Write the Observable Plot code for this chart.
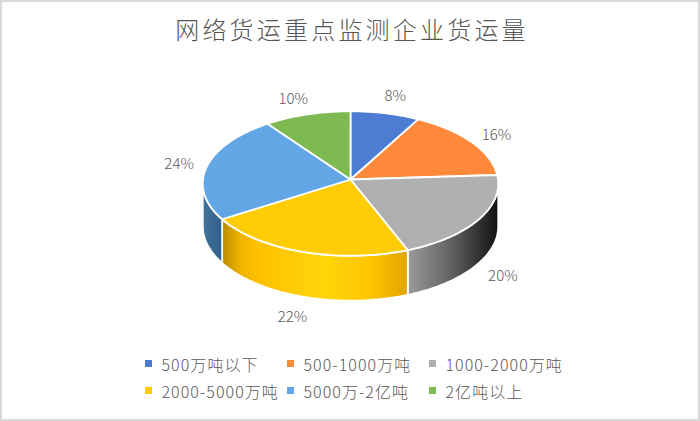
<!DOCTYPE html>
<html><head><meta charset="utf-8">
<script src="https://cdn.jsdelivr.net/npm/d3@7"></script>
<script src="https://cdn.jsdelivr.net/npm/@observablehq/plot@0.6"></script>
<style>
html,body{margin:0;padding:0;background:#fff;overflow:hidden}
#frame{box-sizing:border-box;width:700px;height:421px;border:2px solid #d9d9d9;background:#fff;position:relative;font-family:"Noto Sans CJK SC",sans-serif;color:#595959;overflow:hidden}
#title{height:54px;line-height:53px;text-align:center;font-size:24px;letter-spacing:3.2px;font-weight:300;white-space:nowrap;color:#555;padding-left:4px;box-sizing:border-box}
#chart svg{display:block}
#legend{position:absolute;left:143px;top:348px;display:grid;grid-template-columns:142px 142px 142px;grid-auto-rows:27px;font-size:16px;letter-spacing:1.05px;font-weight:300}
#legend div{display:flex;align-items:center;white-space:nowrap}
#legend i{display:inline-block;width:7px;height:7px;margin-right:9.5px;flex:none}
</style></head>
<body><div id="frame"><div id="title"></div><div id="chart"></div><div id="legend"></div></div>
<script>
const chartTitle = "网络货运重点监测企业货运量";
const categories = ["500万吨以下","500-1000万吨","1000-2000万吨","2000-5000万吨","5000万-2亿吨","2亿吨以上"];
const shares = [8,16,20,22,24,10];
const colors = ["#4d7dd3","#ff893b","#b0b0b0","#ffcc05","#62a6e5","#7eb952"];
const labelNudgeX = [10,25,24,-10,-28,-14];
const labelNudgeY = [-17,-7,57,65,-2,-15];
const wallStops = [
  {id:"wallGrey", stops:[[0,"#9a9a9a"],[.45,"#666"],[.8,"#303030"],[1,"#111"]]},
  {id:"wallYellow", stops:[[0,"#bb8c00"],[.1,"#f0b400"],[.2,"#ffc000"],[.55,"#ffd60a"],[.8,"#ffc400"],[1,"#e0a500"]]},
  {id:"wallBlue", stops:[[0,"#44739c"],[1,"#2f5f8a"]]}
];

const persp = 0.0556, depth = 0.59;
const project = (deg, r = 1, drop = 0) => {
  const a = deg * Math.PI / 180, u = r * Math.sin(a), v = -r * Math.cos(a), w = 1 - persp * v;
  return {x: u / w, y: v / w + drop / w};
};
const arc = (a0, a1, drop = 0) => {
  const n = Math.max(2, Math.ceil(Math.abs(a1 - a0)));
  return d3.range(n + 1).map(i => project(a0 + (a1 - a0) * i / n, 1, drop));
};
const total = d3.sum(shares);
let cum = 0;
const slices = shares.map((s, i) => {
  const a0 = cum / total * 360; cum += s; const a1 = cum / total * 360;
  return {i, a0, a1, mid: (a0 + a1) / 2};
});
const sliceRing = s => { const c = project(0, 0); return [c, ...arc(s.a0, s.a1), c]; };
const wallRing = (a0, a1) => { const t = arc(a0, a1), b = arc(a0, a1, depth).reverse(); return [...t, ...b, t[0]]; };
const frontStart = 93.2, frontEnd = 266.8;
const walls = [
  {ring: wallRing(slices[2].a0 < frontStart ? frontStart : slices[2].a0, slices[2].a1), id: "wallGrey"},
  {ring: wallRing(slices[3].a0, slices[3].a1), id: "wallYellow"},
  {ring: wallRing(slices[4].a0, frontEnd), id: "wallBlue"}
];
const outline = {stroke: "#fff", strokeWidth: 1.8, strokeLinejoin: "round"};

const plot = Plot.plot({
  width: 696, height: 295, margin: 0,
  x: {domain: [-1, 1], range: [200.5, 495.5], axis: null},
  y: {domain: [-1, 1], range: [51, 195], axis: null},
  style: {background: "transparent"},
  marks: [
    ...walls.map(w => Plot.line(w.ring, {x: "x", y: "y", fill: `url(#${w.id})`, ...outline})),
    ...slices.map(s => Plot.line(sliceRing(s), {x: "x", y: "y", fill: colors[s.i], ...outline})),
    ...slices.map(s => Plot.text([project(s.mid)], {
      x: "x", y: "y", text: () => shares[s.i] + "%",
      dx: labelNudgeX[s.i], dy: labelNudgeY[s.i],
      fontSize: 15, fill: "#595959", fontFamily: '"Noto Sans CJK SC",sans-serif', fontWeight: 300
    }))
  ]
});
const defs = d3.select(plot).insert("defs", ":first-child");
wallStops.forEach(g => {
  const lg = defs.append("linearGradient").attr("id", g.id).attr("x1", 0).attr("x2", 1).attr("y1", 0).attr("y2", 0);
  g.stops.forEach(([o, c]) => lg.append("stop").attr("offset", o).attr("stop-color", c));
});
document.getElementById("title").textContent = chartTitle;
document.getElementById("chart").append(plot);
const legend = d3.select("#legend");
categories.forEach((c, i) => {
  const row = legend.append("div");
  row.append("i").style("background", colors[i]);
  row.append("span").text(c);
});
</script></body></html>
